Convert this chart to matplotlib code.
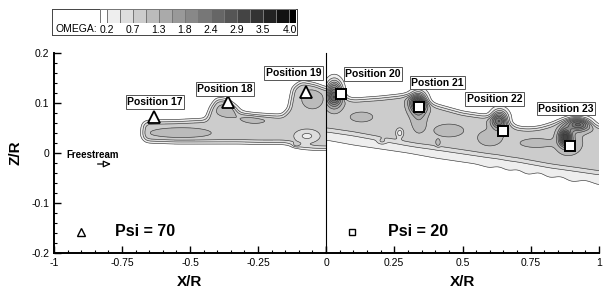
#!/usr/bin/env python3
"""Vorticity (OMEGA) contours in the X/R - Z/R plane, Psi = 70 (left) and Psi = 20 (right)."""

import matplotlib
matplotlib.use('Agg')
import matplotlib.pyplot as plt
import numpy as np
from matplotlib.colors import ListedColormap
from matplotlib.ticker import MultipleLocator

plt.rcParams['font.family'] = ['Liberation Sans', 'DejaVu Sans']

# ---- contour scale (legend) ----
OMEGA_MIN, OMEGA_MAX, N_LEVELS = 0.2, 4.0, 15

# ---- markers / labels ----
left_names = ['Position 17', 'Position 18', 'Position 19']
left_mark_x = [-0.633, -0.361, -0.073]
left_mark_z = [0.072, 0.102, 0.122]
left_text_x = [-0.629, -0.371, -0.119]
left_text_z = [0.102, 0.128, 0.160]

right_names = ['Position 20', 'Postion 21', 'Position 22', 'Position 23']
right_mark_x = [0.055, 0.341, 0.650, 0.893]
right_mark_z = [0.118, 0.092, 0.044, 0.014]
right_text_x = [0.172, 0.409, 0.618, 0.879]
right_text_z = [0.158, 0.141, 0.108, 0.089]

# ---- Psi = 70 wake sheet (edges of the outer contour) ----
wakeL_x = [-0.69, -0.66, -0.55, -0.44, -0.42, -0.40, -0.36, -0.32, -0.25, -0.16,
           -0.135, -0.12, -0.09, -0.04, 0.0]
wakeL_top = [0.050, 0.062, 0.063, 0.066, 0.092, 0.108, 0.104, 0.080, 0.073, 0.074,
             0.088, 0.130, 0.142, 0.136, 0.128]
wakeL_bot = [0.040, 0.024, 0.022, 0.022, 0.022, 0.022, 0.022, 0.022, 0.021, 0.021,
             0.019, 0.015, 0.011, 0.009, 0.009]
wakeL_start = -0.672
wakeL_level = 0.9
# local patches: x, z, omega, sx, sz
patchL_x = [-0.535, -0.36, -0.26, -0.05, -0.07, -0.11]
patchL_z = [0.040, 0.086, 0.070, 0.108, 0.034, 0.016]
patchL_w = [0.30, 0.32, 0.30, 0.30, -0.50, 0.35]
patchL_sx = [0.115, 0.045, 0.055, 0.040, 0.045, 0.012]
patchL_sz = [0.011, 0.014, 0.011, 0.020, 0.013, 0.004]

# ---- Psi = 20 wake sheet ----
wakeR_x = [0.0, 0.1, 0.2, 0.3, 0.4, 0.5, 0.55, 0.6, 0.63, 0.67, 0.7, 0.74, 0.78,
           0.82, 0.86, 0.9, 0.95, 1.0]
wakeR_top = [0.118, 0.106, 0.110, 0.116, 0.095, 0.080, 0.076, 0.072, 0.070, 0.058,
             0.050, 0.048, 0.050, 0.056, 0.064, 0.068, 0.062, 0.052]
wakeR_mid = [0.048, 0.040, 0.030, 0.020, 0.012, 0.004, 0.000, -0.004, -0.006, -0.010,
             -0.012, -0.016, -0.020, -0.024, -0.027, -0.030, -0.034, -0.038]
wakeR_bot = [0.026, 0.016, 0.008, 0.000, -0.010, -0.018, -0.022, -0.030, -0.026, -0.036,
             -0.032, -0.044, -0.038, -0.050, -0.046, -0.058, -0.054, -0.064]
wakeR_upper, wakeR_lower = 0.50, 0.40
# vortex cores and patches: x, z, omega, sx, sz
patchR_x = [0.030, 0.338, 0.636, 0.876, 0.925,
            0.13, 0.34, 0.45, 0.60, 0.77, 0.89, 0.27, 0.205, 0.41]
patchR_z = [0.120, 0.102, 0.068, 0.032, 0.058,
            0.072, 0.068, 0.045, 0.030, 0.020, 0.020, 0.040, 0.024, 0.020]
patchR_w = [2.3, 2.1, 1.8, 2.0, 1.6,
            0.30, 0.30, 0.30, 0.30, 0.30, 0.40, -0.60, 0.35, 0.35]
patchR_sx = [0.028, 0.030, 0.030, 0.022, 0.042,
             0.042, 0.028, 0.055, 0.045, 0.060, 0.045, 0.013, 0.014, 0.008]
patchR_sz = [0.024, 0.020, 0.018, 0.016, 0.013,
             0.010, 0.028, 0.013, 0.016, 0.009, 0.022, 0.009, 0.005, 0.007]


def smooth_step(d, s=0.002):
    return 0.5 * (1.0 + np.tanh(d / s))


def blur(F, sx_cells, sz_cells):
    """Separable gaussian smoothing so the wake edges are rounded like the original."""
    for axis, s in ((1, sx_cells), (0, sz_cells)):
        k = np.exp(-0.5 * (np.arange(-3 * s, 3 * s + 1) / s) ** 2)
        k /= k.sum()
        pad = [(0, 0), (0, 0)]
        pad[axis] = (3 * s, 3 * s)
        Fp = np.pad(F, pad, mode='edge')
        F = np.apply_along_axis(lambda v: np.convolve(v, k, mode='valid'), axis, Fp)
    return F


def add_patches(field, X, Z, xs, zs, ws, sxs, szs):
    for x0, z0, w, sx, sz in zip(xs, zs, ws, sxs, szs):
        field += w * np.exp(-((X - x0) / sx) ** 2 - ((Z - z0) / sz) ** 2)
    return field


def field_left(X, Z):
    top = np.interp(X, wakeL_x, wakeL_top)
    bot = np.interp(X, wakeL_x, wakeL_bot)
    d = np.minimum(np.minimum(Z - bot, top - Z), X - wakeL_start)
    f = blur(wakeL_level * smooth_step(d), 5, 5)
    f = add_patches(f, X, Z, patchL_x, patchL_z, patchL_w, patchL_sx, patchL_sz)
    return np.maximum(f, 0.0)


def field_right(X, Z):
    top = np.interp(X, wakeR_x, wakeR_top)
    mid = np.interp(X, wakeR_x, wakeR_mid)
    bot = np.interp(X, wakeR_x, wakeR_bot)
    f = wakeR_lower * smooth_step(np.minimum(Z - bot, top - Z))
    f += wakeR_upper * smooth_step(np.minimum(Z - mid, top - Z))
    f = blur(f, 6, 5)
    f = add_patches(f, X, Z, patchR_x, patchR_z, patchR_w, patchR_sx, patchR_sz)
    return np.maximum(f, 0.0)


levels = np.linspace(OMEGA_MIN, OMEGA_MAX, N_LEVELS)
greys = [str(g) for g in np.linspace(1.0, 0.0, N_LEVELS + 1)]

fig = plt.figure(figsize=(6.07, 2.92), dpi=100)
axL = fig.add_axes([54 / 607, 39 / 292, 272 / 607, 200 / 292])
axR = fig.add_axes([326 / 607, 39 / 292, 273 / 607, 200 / 292])

zg = np.linspace(-0.2, 0.2, 400)
for ax, xr, func in ((axL, (-1, 0), field_left), (axR, (0, 1), field_right)):
    X, Z = np.meshgrid(np.linspace(xr[0], xr[1], 500), zg)
    F = func(X, Z)
    ax.contourf(X, Z, F, levels=levels, colors=greys[1:], extend='max')
    ax.contour(X, Z, F, levels=levels, colors='#3a3a3a', linewidths=0.45)
    ax.set_xlim(*xr)
    ax.set_ylim(-0.2, 0.2)
    ax.spines['top'].set_visible(False)
    ax.spines['right'].set_visible(False)
    ax.spines['bottom'].set_linewidth(1.4)
    ax.xaxis.set_minor_locator(MultipleLocator(0.05))
    ax.tick_params(which='both', direction='in', labelsize=7.5, top=False, right=False)
    ax.tick_params(which='major', length=5, width=1)
    ax.tick_params(which='minor', length=2.5, width=0.8)
    ax.set_xlabel('X/R', fontsize=11, fontweight='bold', labelpad=5)

axL.set_xticks([-1, -0.75, -0.5, -0.25, 0])
axL.set_xticklabels(['-1', '-0.75', '-0.5', '-0.25', '0'])
axL.set_yticks([-0.2, -0.1, 0, 0.1, 0.2])
axL.set_yticklabels(['-0.2', '-0.1', '0', '0.1', '0.2'])
axL.yaxis.set_minor_locator(MultipleLocator(0.02))
axL.spines['left'].set_linewidth(1.4)
axL.set_ylabel('Z/R', fontsize=11, fontweight='bold', labelpad=6)

axR.set_xticks([0, 0.25, 0.5, 0.75, 1])
axR.set_xticklabels(['', '0.25', '0.5', '0.75', '1'])
axR.tick_params(axis='y', which='both', left=False, labelleft=False)
axR.spines['left'].set_linewidth(0.8)

box = dict(boxstyle='square,pad=0.15', fc='white', ec='#555555', lw=0.7)
for name, mx, mz, tx, tz in zip(left_names, left_mark_x, left_mark_z, left_text_x, left_text_z):
    axL.plot(mx, mz, '^', ms=9, mfc='white', mec='black', mew=1.3, zorder=5)
    axL.text(tx, tz, name, fontsize=7.5, fontweight='bold', ha='center', va='center',
             bbox=box, zorder=6)
for name, mx, mz, tx, tz in zip(right_names, right_mark_x, right_mark_z, right_text_x, right_text_z):
    axR.plot(mx, mz, 's', ms=7, mfc='white', mec='black', mew=1.4, zorder=5)
    axR.text(tx, tz, name, fontsize=7.5, fontweight='bold', ha='center', va='center',
             bbox=box, zorder=6)

# freestream arrow
axL.text(-0.955, -0.004, 'Freestream', fontsize=7, fontweight='bold', ha='left', va='center')
axL.annotate('', xy=(-0.78, -0.022), xytext=(-0.85, -0.022),
             arrowprops=dict(arrowstyle='-|>,head_length=0.45,head_width=0.2',
                             fc='white', ec='black', lw=0.9))

# Psi legends
axL.plot(-0.90, -0.158, '^', ms=6, mfc='white', mec='black', mew=1)
axL.text(-0.776, -0.158, 'Psi = 70', fontsize=11.5, fontweight='bold', ha='left', va='center')
axR.plot(0.095, -0.158, 's', ms=4.5, mfc='white', mec='black', mew=1)
axR.text(0.228, -0.158, 'Psi = 20', fontsize=11.5, fontweight='bold', ha='left', va='center')

# ---- OMEGA legend ----
axBox = fig.add_axes([52 / 607, (292 - 35) / 292, 245 / 607, 26 / 292])
axBox.set_xticks([])
axBox.set_yticks([])
for sp in axBox.spines.values():
    sp.set_linewidth(0.7)
    sp.set_color('#444444')
fig.text(55 / 607, (292 - 29) / 292, 'OMEGA:', fontsize=7.5, ha='left', va='center')

axCb = fig.add_axes([100 / 607, (292 - 23) / 292, 196 / 607, 14 / 292])
half = (levels[1] - levels[0]) / 2
edges = np.concatenate([[levels[0] - half], levels, [levels[-1] + half]])
axCb.pcolormesh(edges, [0, 1], np.arange(N_LEVELS + 1)[None, :],
                cmap=ListedColormap(greys), edgecolors='#777777', linewidth=0.5)
axCb.set_xlim(edges[0], edges[-1])
axCb.set_ylim(0, 1)
axCb.set_yticks([])
axCb.set_xticks(levels[::2])
axCb.set_xticklabels([f'{v:.1f}' for v in levels[::2]])
axCb.tick_params(axis='x', length=0, pad=1.5, labelsize=7.5)
for sp in axCb.spines.values():
    sp.set_visible(False)

fig.savefig('out.png', dpi=100)
